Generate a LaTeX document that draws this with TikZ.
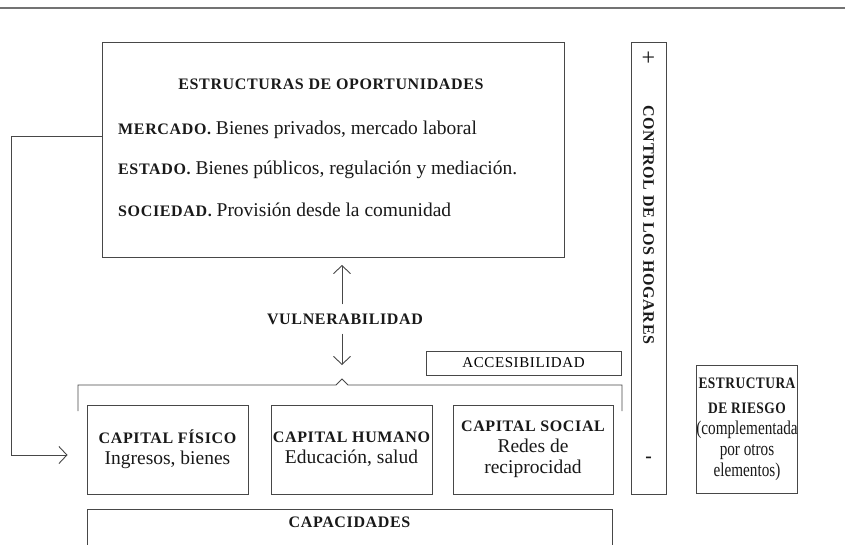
\documentclass[tikz,border=0pt]{standalone}
\usepackage{fontspec}
\setmainfont{Liberation Serif}
\newfontfamily\scbfont[LetterSpace=4]{Liberation Serif Bold}
\newfontfamily\scrfont[LetterSpace=4]{Liberation Serif}
\newfontfamily\narrowfont[FakeStretch=0.78]{Liberation Serif}
\newfontfamily\narrowbold[FakeStretch=0.84,LetterSpace=3]{Liberation Serif Bold}
\usetikzlibrary{arrows.meta,calc}
\newcommand\scb[1]{{\scbfont\fontsize{16}{18}\selectfont #1}}
\newcommand\scr[1]{{\scrfont\fontsize{15}{18}\selectfont #1}}
\newcommand\scn[1]{{\narrowbold\fontsize{16}{18}\selectfont #1}}
\tikzset{
  box/.style={draw=black!72, line width=0.9pt, inner sep=0pt},
  txt/.style={inner sep=0pt, text=black!90, font=\fontsize{19.5}{22}\selectfont},
  ln/.style={draw=black!72, line width=0.9pt},
  arr/.style={ln, -{Straight Barb[length=8pt,width=17pt,line width=0.9pt]}},
}
\begin{document}
\begin{tikzpicture}[x=1pt,y=-1pt]
\clip (0,0) rectangle (845,544);
\fill[white] (0,0) rectangle (845,544);
% top rule
\draw[black!55, line width=1.6pt] (0,8) -- (845,8);

% big box
\node[box, minimum width=462pt, minimum height=215pt] (opp) at (333,149.5) {};
\node[txt] (optitle) at (331,84) {\scb{ESTRUCTURAS DE OPORTUNIDADES}};
\node[txt, anchor=west] (merc) at (118,130) {\scb{MERCADO.} Bienes privados, mercado laboral};
\node[txt, anchor=west] (est) at (118,170) {\scb{ESTADO.} Bienes públicos, regulación y mediación.};
\node[txt, anchor=west] (soc) at (118,210) {\scb{SOCIEDAD.} Provisión desde la comunidad};

% vulnerabilidad
\node[txt] (vul) at (345,319) {\scb{VULNERABILIDAD}};
\coordinate (uptip) at (342,265);
\coordinate (dntip) at (342,365);
\draw[arr] (vul.north -| uptip) ++(0,-9) -- (uptip);
\draw[arr] (vul.south -| dntip) ++(0,9) -- (dntip);

% accesibilidad
\node[box, minimum width=195pt, minimum height=24pt] (acc) at (523.5,363) {\scr{ACCESIBILIDAD}};

% brace
\draw[ln] (78,411) -- (78,385) -- (336,385) -- (342,379) -- (348,385) -- (622,385) -- (622,411);

% capital boxes
\node[box, minimum width=161pt, minimum height=89pt, align=center, txt] (fis) at (167.5,449.5)
  {\scb{CAPITAL FÍSICO}\\[-1pt] Ingresos, bienes};
\node[box, minimum width=161pt, minimum height=89pt, align=center, txt] (hum) at (351.5,449.5)
  {\scb{CAPITAL HUMANO}\\[-1pt] Educación, salud};
\node[box, minimum width=160pt, minimum height=89pt, align=center, txt] (socb) at (533,449.5)
  {\scb{CAPITAL SOCIAL}\\[-1pt] Redes de\\[-1pt] reciprocidad};

% capacidades (extends past bottom)
\node[box, minimum width=525pt, minimum height=60pt] (cap) at (349.5,539) {};
\node[txt] (captxt) at (349.5,522) {\scb{CAPACIDADES}};

% control de los hogares
\node[box, minimum width=35pt, minimum height=452pt] (ctrl) at (648.5,268) {};
\node[txt, font=\fontsize{24}{26}\selectfont] (plus) at (648.5,59) {+};
\node[txt, rotate=-90] (ctrltxt) at (648.5,225) {\scb{CONTROL DE LOS HOGARES}};
\node[txt] (minus) at (648.5,460) {\textbf{-}};

% estructura de riesgo
\node[box, minimum width=100pt, minimum height=128pt, align=center, txt] (ries) at (747,429)
  {\scn{ESTRUCTURA}\\[3pt] \scn{DE RIESGO}\\[-1pt] {\narrowfont (complementada}\\[-1pt] {\narrowfont por otros}\\[-1pt] {\narrowfont elementos)}};

% connector from opportunities to capital fisico
\draw[arr] ([yshift=13.5pt]opp.west) -- ++(-90,0) |- ([xshift=-19pt,yshift=-5.5pt]fis.west);
\end{tikzpicture}
\end{document}
